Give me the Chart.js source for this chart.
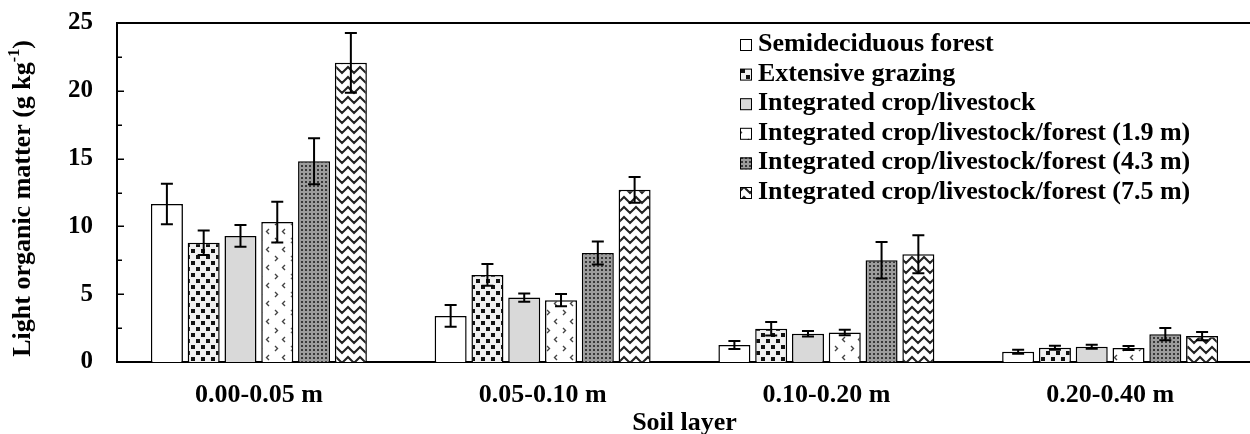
<!DOCTYPE html>
<html>
<head>
<meta charset="utf-8">
<title>Light organic matter by soil layer</title>
<script src="https://cdn.jsdelivr.net/npm/chart.js@4.4.1/dist/chart.umd.min.js"></script>
<style>
    html, body { margin: 0; padding: 0; background: #fff; overflow: hidden; }
    #wrap { position: relative; width: 1252px; height: 434px; overflow: hidden; }
    #chart { position: absolute; left: 0; top: -16px; }
</style>
</head>
<body>
<div id="wrap">
    <canvas id="chart" width="1252" height="450"></canvas>
</div>
<script>
// Soil layers (categories)
var layers = ['0.00-0.05 m', '0.05-0.10 m', '0.10-0.20 m', '0.20-0.40 m'];

// Light organic matter (g kg-1), mean and error per land use
var semideciduous    = [11.65, 3.40, 1.25, 0.76];
var semideciduousErr = [1.50, 0.80, 0.30, 0.15];
var grazing          = [8.80, 6.42, 2.45, 1.05];
var grazingErr       = [0.90, 0.80, 0.50, 0.15];
var cropLivestock    = [9.30, 4.75, 2.08, 1.13];
var cropLivestockErr = [0.80, 0.30, 0.20, 0.15];
var iclf19           = [10.32, 4.56, 2.18, 1.03];
var iclf19Err        = [1.50, 0.45, 0.20, 0.15];
var iclf43           = [14.80, 8.04, 7.50, 2.05];
var iclf43Err        = [1.70, 0.85, 1.35, 0.45];
var iclf75           = [22.06, 12.70, 7.94, 1.91];
var iclf75Err        = [2.20, 0.95, 1.40, 0.30];

// Y axis ticks
var yTicks = [0, 5, 10, 15, 20, 25];

var serif = '"Liberation Serif", "Times New Roman", serif';
var canvas = document.getElementById('chart');
var mainCtx = canvas.getContext('2d');

// Build a repeating fill from a small tile
function makePattern(w, h, draw) {
    var c = document.createElement('canvas');
    c.width = w;
    c.height = h;
    var g = c.getContext('2d');
    draw(g, w, h);
    return mainCtx.createPattern(c, 'repeat');
}

var fillGrazing = makePattern(10, 12, function(g, w, h){
    g.fillStyle = '#f0f0f0';
    g.fillRect(0, 0, w, h);
    g.fillStyle = '#111';
    g.fillRect(1, 1, 4, 4);
    g.fillRect(6, 7, 4, 4);
});

var fillIclf19 = makePattern(16, 18, function(g, w, h){
    g.fillStyle = '#fff';
    g.fillRect(0, 0, w, h);
    g.strokeStyle = '#444';
    g.lineWidth = 1.4;
    g.beginPath();
    g.moveTo(3, 2); g.lineTo(5.5, 4.5); g.lineTo(3, 7);
    g.moveTo(13, 11); g.lineTo(10.5, 13.5); g.lineTo(13, 16);
    g.stroke();
});

var fillIclf43 = makePattern(4, 4, function(g, w, h){
    g.fillStyle = '#9c9c9c';
    g.fillRect(0, 0, w, h);
    g.fillStyle = '#383838';
    g.fillRect(1, 1, 2, 2);
});

var fillIclf75 = makePattern(12, 10, function(g, w, h){
    g.fillStyle = '#fff';
    g.fillRect(0, 0, w, h);
    g.strokeStyle = '#222';
    g.lineWidth = 2;
    g.beginPath();
    for (var k = -1; k <= 1; k++) {
        var o = k * 10;
        g.moveTo(-1, 2 + o); g.lineTo(6, 9 + o); g.lineTo(13, 2 + o);
    }
    g.stroke();
});

var errors = [semideciduousErr, grazingErr, cropLivestockErr, iclf19Err, iclf43Err, iclf75Err];

// Error bars drawn from the y scale
var errorBars = {
    id: 'errorBars',
    afterDatasetsDraw: function(chart){
        var ctx = chart.ctx;
        var yScale = chart.scales.y;
        ctx.save();
        ctx.strokeStyle = '#000';
        ctx.lineWidth = 2;
        chart.data.datasets.forEach(function(ds, i){
            var meta = chart.getDatasetMeta(i);
            meta.data.forEach(function(bar, j){
                var v = ds.data[j], e = errors[i][j];
                var top = yScale.getPixelForValue(v + e);
                var bot = yScale.getPixelForValue(v - e);
                ctx.beginPath();
                ctx.moveTo(bar.x, top); ctx.lineTo(bar.x, bot);
                ctx.moveTo(bar.x - 6, top); ctx.lineTo(bar.x + 6, top);
                ctx.moveTo(bar.x - 6, bot); ctx.lineTo(bar.x + 6, bot);
                ctx.stroke();
            });
        });
        ctx.restore();
    }
};

// Frame top line, inner tick marks, y title and legend
var decorations = {
    id: 'decorations',
    afterDraw: function(chart){
        var ctx = chart.ctx;
        var area = chart.chartArea;
        var yScale = chart.scales.y;
        ctx.save();
        ctx.strokeStyle = '#000';
        ctx.lineWidth = 2;
        ctx.beginPath();
        ctx.moveTo(area.left - 1, area.top);
        ctx.lineTo(area.right, area.top);
        ctx.stroke();

        // inward ticks every 2.5
        ctx.lineWidth = 1.5;
        ctx.beginPath();
        for (var v = 2.5; v < 25; v += 2.5) {
            var py = Math.round(yScale.getPixelForValue(v)) + 0.25;
            var len = (v % 5 === 0) ? 7 : 5;
            ctx.moveTo(area.left, py);
            ctx.lineTo(area.left + len, py);
        }
        ctx.stroke();

        // y axis title with superscript
        var main = 'Light organic matter (g kg';
        var sup = '-1';
        var end = ')';
        ctx.fillStyle = '#000';
        ctx.translate(23, (area.top + area.bottom) / 2 + 6);
        ctx.rotate(-Math.PI / 2);
        ctx.textBaseline = 'middle';
        ctx.font = 'bold 26px ' + serif;
        var w1 = ctx.measureText(main).width;
        var w3 = ctx.measureText(end).width;
        ctx.font = 'bold 16px ' + serif;
        var w2 = ctx.measureText(sup).width;
        var x0 = -(w1 + w2 + w3) / 2;
        ctx.font = 'bold 26px ' + serif;
        ctx.fillText(main, x0, 0);
        ctx.font = 'bold 16px ' + serif;
        ctx.fillText(sup, x0 + w1, -8);
        ctx.font = 'bold 26px ' + serif;
        ctx.fillText(end, x0 + w1 + w2, 0);
        ctx.setTransform(1, 0, 0, 1, 0, 0);

        // legend
        ctx.font = 'bold 26px ' + serif;
        ctx.textBaseline = 'alphabetic';
        chart.data.datasets.forEach(function(ds, i){
            var base = area.top + 28 + i * 29.6;
            ctx.fillStyle = ds.backgroundColor;
            ctx.fillRect(740, base - 12, 12, 12);
            ctx.lineWidth = 1;
            ctx.strokeStyle = '#000';
            ctx.strokeRect(740.5, base - 11.5, 11, 11);
            ctx.fillStyle = '#000';
            ctx.fillText(ds.label, 758, base);
        });
        ctx.restore();
    }
};

function series(label, data, fill) {
    return {
        label: label,
        data: data,
        backgroundColor: fill,
        borderColor: '#000',
        borderWidth: 1.5,
        categoryPercentage: 0.778,
        barPercentage: 0.87
    };
}

new Chart(canvas, {
    type: 'bar',
    data: {
        labels: layers,
        datasets: [
            series('Semideciduous forest', semideciduous, '#ffffff'),
            series('Extensive grazing', grazing, fillGrazing),
            series('Integrated crop/livestock', cropLivestock, '#d9d9d9'),
            series('Integrated crop/livestock/forest (1.9 m)', iclf19, fillIclf19),
            series('Integrated crop/livestock/forest (4.3 m)', iclf43, fillIclf43),
            series('Integrated crop/livestock/forest (7.5 m)', iclf75, fillIclf75)
        ]
    },
    options: {
        responsive: false,
        animation: false,
        layout: { padding: { top: 6, right: 0, left: 0, bottom: 0 } },
        plugins: {
            legend: { display: false },
            tooltip: { enabled: false }
        },
        scales: {
            x: {
                grid: { display: false },
                border: { display: true, color: '#000', width: 2 },
                ticks: {
                    color: '#000',
                    padding: 10,
                    font: { family: serif, size: 26, weight: 'bold' }
                },
                title: {
                    display: true,
                    text: 'Soil layer',
                    color: '#000',
                    padding: { top: 0, bottom: -5 },
                    font: { family: serif, size: 26, weight: 'bold' }
                },
                afterFit: function(scale){ scale.height = 72; }
            },
            y: {
                min: 0,
                max: 25,
                afterBuildTicks: function(scale){
                    scale.ticks = yTicks.map(function(v){ return { value: v }; });
                },
                grid: { display: false, drawTicks: false },
                border: { display: true, color: '#000', width: 2 },
                ticks: {
                    color: '#000',
                    padding: 24,
                    font: { family: serif, size: 25, weight: 'bold' }
                },
                afterFit: function(scale){ scale.width = 117; }
            }
        }
    },
    plugins: [errorBars, decorations]
});
</script>
</body>
</html>
